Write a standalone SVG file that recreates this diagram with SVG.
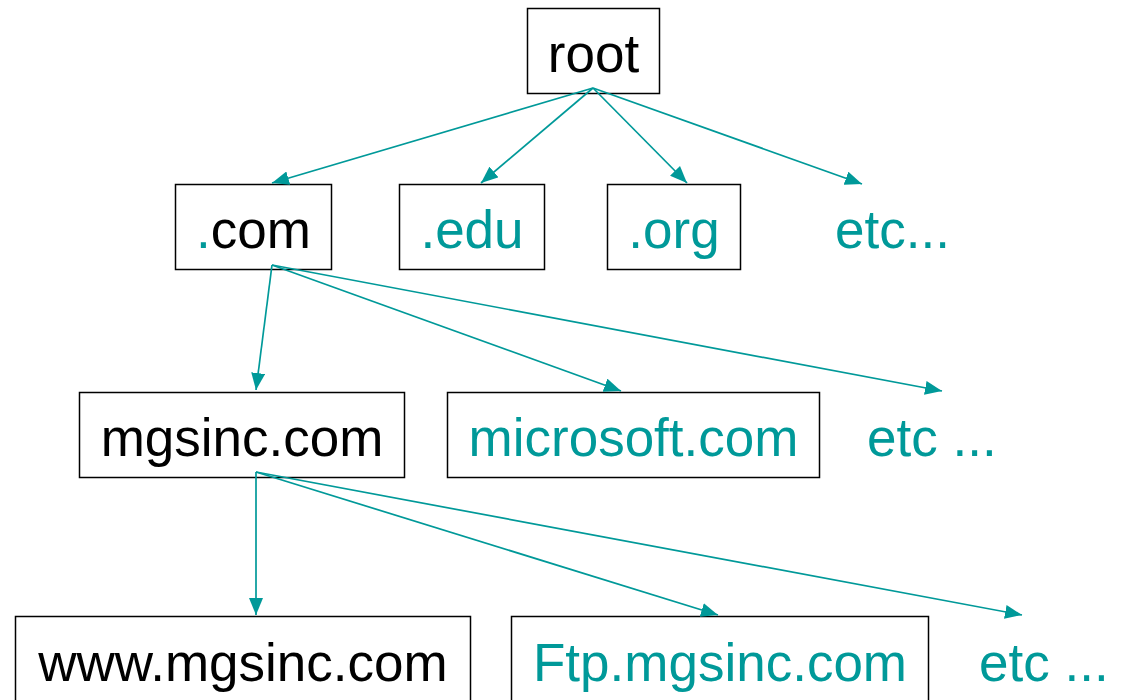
<svg xmlns="http://www.w3.org/2000/svg" width="1121" height="700" viewBox="0 0 1121 700">
<defs>
<marker id="ah" markerUnits="userSpaceOnUse" markerWidth="18" markerHeight="14" refX="17" refY="7" orient="auto">
<path d="M0,0 L17,7 L0,14 z" fill="#009999"/>
</marker>
<style>
.box{fill:#fff;stroke:#000;stroke-width:1.5}
.t{font-family:"Liberation Sans",Arial,sans-serif;font-size:53px}
.k{fill:#000}
.c{fill:#009999}
.e{stroke:#009999;stroke-width:1.7;fill:none;marker-end:url(#ah)}
</style>
</defs>
<rect width="1121" height="700" fill="#fff"/>
<g id="root"><rect class="box" x="527.5" y="8.5" width="132" height="85"/><text class="t k" x="593.5" y="72" text-anchor="middle">root</text></g>
<g id="com"><rect class="box" x="175.5" y="184.5" width="156" height="85"/><text class="t k" x="253.5" y="248" text-anchor="middle"><tspan class="c">.</tspan>com</text></g>
<g id="edu"><rect class="box" x="399.5" y="184.5" width="145" height="85"/><text class="t c" x="472" y="248" text-anchor="middle">.edu</text></g>
<g id="org"><rect class="box" x="607.5" y="184.5" width="133" height="85"/><text class="t c" x="674" y="248" text-anchor="middle">.org</text></g>
<g id="etc1"><text class="t c" x="835" y="248">etc...</text></g>
<g id="mgsinc"><rect class="box" x="79.5" y="392.5" width="325" height="85"/><text class="t k" x="242" y="456" text-anchor="middle">mgsinc.com</text></g>
<g id="microsoft"><rect class="box" x="447.5" y="392.5" width="372" height="85"/><text class="t c" x="633.5" y="456" text-anchor="middle">microsoft.com</text></g>
<g id="etc2"><text class="t c" x="867" y="456">etc ...</text></g>
<g id="www"><rect class="box" x="15.5" y="616.5" width="455" height="100"/><text class="t k" x="243" y="681" text-anchor="middle">www.mgsinc.com</text></g>
<g id="ftp"><rect class="box" x="511.5" y="616.5" width="417" height="100"/><text class="t c" x="720" y="681" text-anchor="middle">Ftp.mgsinc.com</text></g>
<g id="etc3"><text class="t c" x="979" y="681">etc ...</text></g>
<g id="connectors">
<line class="e" x1="593" y1="88" x2="272" y2="183"/>
<line class="e" x1="593" y1="88" x2="481" y2="183"/>
<line class="e" x1="593" y1="88" x2="687" y2="183"/>
<line class="e" x1="593" y1="88" x2="862" y2="184"/>
<line class="e" x1="272" y1="265" x2="256" y2="390"/>
<line class="e" x1="272" y1="265" x2="621" y2="391"/>
<line class="e" x1="272" y1="265" x2="942" y2="391"/>
<line class="e" x1="256" y1="472" x2="256" y2="615"/>
<line class="e" x1="256" y1="472" x2="718" y2="615"/>
<line class="e" x1="256" y1="472" x2="1022" y2="615"/>
</g>
</svg>
